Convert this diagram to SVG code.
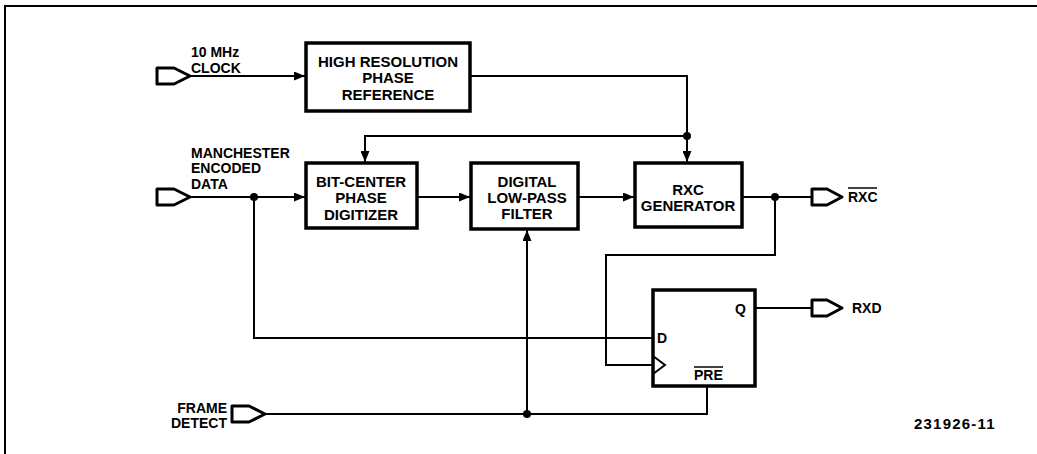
<svg xmlns="http://www.w3.org/2000/svg" width="1037" height="454" viewBox="0 0 1037 454">
<style>
.box{fill:#fff;stroke:#000;stroke-width:3.5}
.ln{fill:none;stroke:#000;stroke-width:2}
.port{fill:#fff;stroke:#000;stroke-width:3;stroke-linejoin:round}
.t{font-family:"Liberation Sans",Arial,sans-serif;font-weight:bold;font-size:14px;fill:#000}
.bt{font-family:"Liberation Sans",Arial,sans-serif;font-weight:bold;font-size:15px;fill:#000;text-anchor:middle}
.dot{fill:#000}
</style>
<defs>
<marker id="arr" viewBox="0 0 11 9" refX="11" refY="4.5" markerWidth="11" markerHeight="9" markerUnits="userSpaceOnUse" orient="auto">
<path d="M0,0 L11,4.5 L0,9 Z" fill="#000"/>
</marker>
</defs>
<path d="M5,454 V6 H1037" fill="none" stroke="#000" stroke-width="2"/>

<g id="connectors">
<path class="ln" d="M190,76 H305" marker-end="url(#arr)"/>
<path class="ln" d="M470,76 H687 V162" marker-end="url(#arr)"/>
<path class="ln" d="M687,136 H365 V162" marker-end="url(#arr)"/>
<path class="ln" d="M190,197 H305" marker-end="url(#arr)"/>
<path class="ln" d="M417,197 H470" marker-end="url(#arr)"/>
<path class="ln" d="M578,197 H634" marker-end="url(#arr)"/>
<path class="ln" d="M742,197 H812"/>
<path class="ln" d="M775,197 V255 H606 V365 H653"/>
<path class="ln" d="M254,197 V338 H653"/>
<path class="ln" d="M755,308 H812"/>
<path class="ln" d="M707,386 V414 H265"/>
<path class="ln" d="M527,414 V230" marker-end="url(#arr)"/>
<circle class="dot" cx="687" cy="136" r="4"/>
<circle class="dot" cx="254" cy="197" r="4"/>
<circle class="dot" cx="775" cy="197" r="4"/>
<circle class="dot" cx="527" cy="414" r="4"/>
</g>

<g id="clock-in">
<path class="port" d="M157,68 H174 L190,76 L174,84 H157 Z"/>
<text class="t" x="191" y="57">10 MHz</text>
<text class="t" x="191" y="73">CLOCK</text>
</g>

<g id="data-in">
<path class="port" d="M157,189 H174 L190,197 L174,205 H157 Z"/>
<text class="t" x="191" y="158">MANCHESTER</text>
<text class="t" x="191" y="173">ENCODED</text>
<text class="t" x="191" y="189">DATA</text>
</g>

<g id="frame-in">
<path class="port" d="M232,406 H249 L265,414 L249,422 H232 Z"/>
<text class="t" x="227" y="413" text-anchor="end">FRAME</text>
<text class="t" x="227" y="428" text-anchor="end">DETECT</text>
</g>

<g id="high-res">
<rect class="box" x="306" y="43" width="164" height="68"/>
<text class="bt" x="388" y="67">HIGH RESOLUTION</text>
<text class="bt" x="388" y="83">PHASE</text>
<text class="bt" x="388" y="100">REFERENCE</text>
</g>

<g id="bit-center">
<rect class="box" x="306" y="163" width="111" height="65"/>
<text class="bt" x="361" y="187">BIT-CENTER</text>
<text class="bt" x="361" y="203">PHASE</text>
<text class="bt" x="361" y="220">DIGITIZER</text>
</g>

<g id="lowpass">
<rect class="box" x="471" y="163" width="107" height="66"/>
<text class="bt" x="527" y="187">DIGITAL</text>
<text class="bt" x="527" y="203">LOW-PASS</text>
<text class="bt" x="527" y="219">FILTER</text>
</g>

<g id="rxc-gen">
<rect class="box" x="635" y="163" width="107" height="64"/>
<text class="bt" x="688" y="195">RXC</text>
<text class="bt" x="688" y="211">GENERATOR</text>
</g>

<g id="rxc-out">
<path class="port" d="M812,189 H827 L842,197 L827,205 H812 Z"/>
<text class="t" x="848" y="202">RXC</text>
<line x1="848" y1="188" x2="877" y2="188" stroke="#000" stroke-width="1.5"/>
</g>

<g id="flipflop">
<rect class="box" x="653" y="290" width="102" height="96"/>
<path class="ln" d="M653,356 L665,365 L653,374"/>
<text class="t" x="735" y="314">Q</text>
<text class="t" x="657" y="343">D</text>
<text class="t" x="694" y="380">PRE</text>
<line x1="694" y1="367" x2="723" y2="367" stroke="#000" stroke-width="1.5"/>
</g>

<g id="rxd-out">
<path class="port" d="M812,300 H827 L842,308 L827,316 H812 Z"/>
<text class="t" x="852" y="313">RXD</text>
</g>

<text class="t" x="914" y="429" style="font-size:15px;letter-spacing:1.2px">231926-11</text>
</svg>
